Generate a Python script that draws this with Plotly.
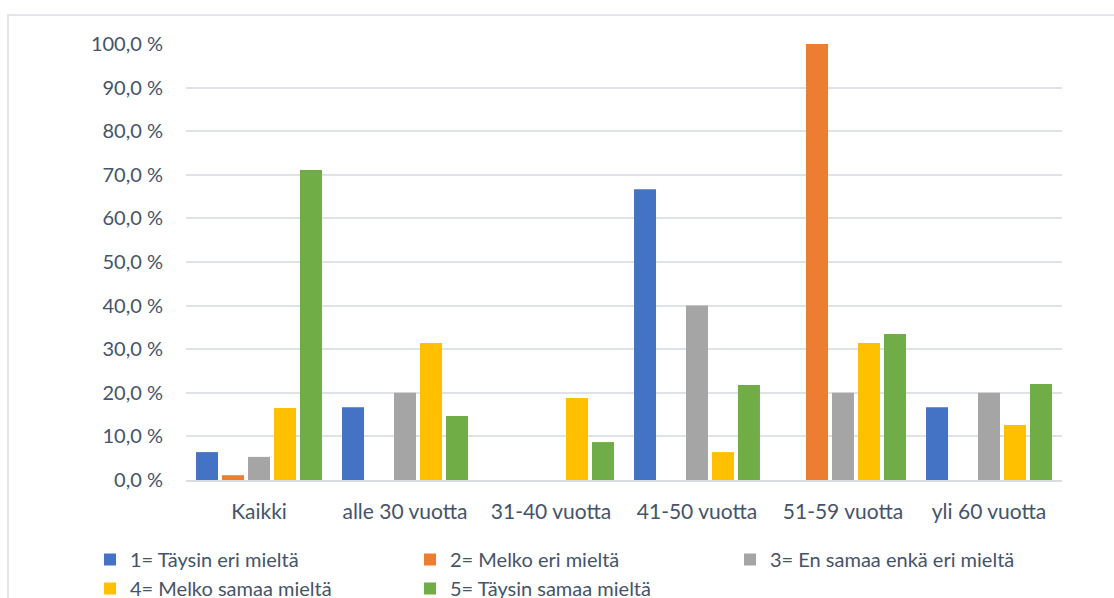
import plotly.graph_objects as go

categories = ["Kaikki", "alle 30 vuotta", "31-40 vuotta", "41-50 vuotta", "51-59 vuotta", "yli 60 vuotta"]
series_names = ["1= Täysin eri mieltä", "2= Melko eri mieltä", "3= En samaa enkä eri mieltä",
                "4= Melko samaa mieltä", "5= Täysin samaa mieltä"]
s1 = [6.4, 16.7, 0, 66.7, 0, 16.7]
s2 = [1.1, 0, 0, 0, 100.0, 0]
s3 = [5.3, 20.0, 0, 40.0, 20.0, 20.0]
s4 = [16.5, 31.4, 18.8, 6.4, 31.4, 12.6]
s5 = [71.1, 14.7, 8.7, 21.8, 33.5, 22.0]
tick_vals = [0, 10, 20, 30, 40, 50, 60, 70, 80, 90, 100]
tick_text = ["0,0 %", "10,0 %", "20,0 %", "30,0 %", "40,0 %", "50,0 %", "60,0 %",
             "70,0 %", "80,0 %", "90,0 %", "100,0 %"]
colors = ["#4472C4", "#ED7D31", "#A5A5A5", "#FFC000", "#70AD47"]

W, H = 1114, 598
L, R, T, B = 186, 52, 44, 118
pw, ph = W - L - R, H - T - B

fig = go.Figure()
for name, vals, c in zip(series_names, [s1, s2, s3, s4, s5], colors):
    fig.add_trace(go.Bar(x=categories, y=vals, name=name, marker=dict(color=c, line=dict(width=0))))

font_color = "#44546A"
fig.update_layout(
    width=W, height=H,
    margin=dict(l=L, r=R, t=T, b=B, autoexpand=False),
    barmode="group", bargap=0.11, bargroupgap=0.154,
    plot_bgcolor="white", paper_bgcolor="white",
    font=dict(family="Lato, Calibri, sans-serif", size=20, color=font_color),
    xaxis=dict(showgrid=False, showline=True, linecolor="#D9DDE3", linewidth=2,
               ticks="", ticklabelstandoff=12, tickfont=dict(size=21, color=font_color)),
    yaxis=dict(range=[0, 100], tickvals=tick_vals, ticktext=tick_text,
               showgrid=True, gridcolor="#DFE3E8", gridwidth=2, zeroline=False,
               showline=False, ticks="", ticklabelstandoff=22,
               tickfont=dict(size=20, color=font_color)),
    legend=dict(orientation="h", x=(90 - L) / pw, xanchor="left",
                y=-(540 - (T + ph)) / ph, yanchor="top",
                entrywidth=275, entrywidthmode="pixels",
                bgcolor="rgba(0,0,0,0)",
                font=dict(size=20, color=font_color), itemclick=False,
                tracegroupgap=0),
    showlegend=True,
)
fig.add_shape(type="rect", xref="paper", yref="paper",
              x0=(8 - L) / pw, x1=(1130 - L) / pw,
              y0=-(620 - (T + ph)) / ph, y1=((T + ph) - 15) / ph,
              line=dict(color="#D9DDE3", width=1.5), fillcolor="rgba(0,0,0,0)", layer="below")

fig.write_html("out.html")
